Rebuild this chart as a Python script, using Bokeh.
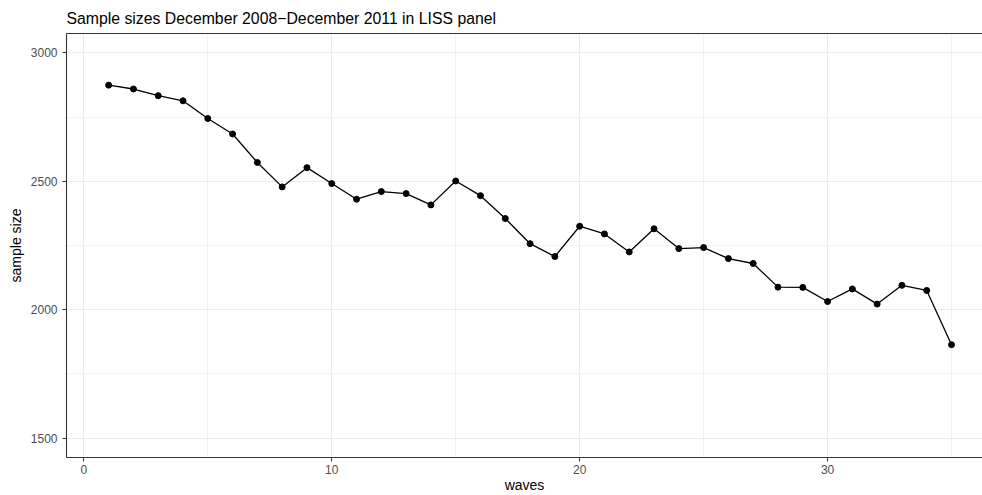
from bokeh.plotting import figure
from bokeh.models import Range1d, FixedTicker, LinearAxis
from bokeh.embed import file_html
from bokeh.resources import INLINE

waves = [1, 2, 3, 4, 5, 6, 7, 8, 9, 10, 11, 12, 13, 14, 15, 16, 17, 18,
         19, 20, 21, 22, 23, 24, 25, 26, 27, 28, 29, 30, 31, 32, 33, 34, 35]
sizes = [2874, 2859, 2833, 2813, 2744, 2684, 2573, 2478, 2553, 2491, 2430,
         2460, 2452, 2408, 2501, 2444, 2355, 2257, 2207, 2325, 2295, 2225,
         2315, 2238, 2242, 2199, 2180, 2088, 2087, 2032, 2081, 2022, 2095,
         2075, 1864]
x_ticks = [0, 10, 20, 30]
x_minor = [5, 15, 25, 35]
y_ticks = [1500, 2000, 2500, 3000]
y_minor = [1750, 2250, 2750]

FONT = "Liberation Sans"
DARK = "#333333"
GRID = "#EBEBEB"

p = figure(width=982, height=495, output_backend="svg", toolbar_location=None,
           x_range=Range1d(-0.7, 36.25), y_range=Range1d(1425, 3075),
           title="Sample sizes December 2008\u2212December 2011 in LISS panel",
           min_border_left=66, min_border_right=0, min_border_top=33,
           min_border_bottom=38)
p.outline_line_color = None
p.background_fill_color = "white"
p.border_fill_color = "white"

p.title.text_font = FONT
p.title.text_font_size = "15.8px"
p.title.text_font_style = "normal"
p.title.text_color = "black"
p.title.align = "left"
p.title.vertical_align = "top"
p.title.text_line_height = 0.6
p.title.offset = 0
p.title.standoff = 10

p.xaxis.ticker = FixedTicker(ticks=x_ticks, minor_ticks=x_minor)
p.yaxis.ticker = FixedTicker(ticks=y_ticks, minor_ticks=y_minor)
p.xaxis.axis_label = "waves"
p.yaxis.axis_label = "sample size"
for ax in (p.xaxis, p.yaxis):
    ax.axis_line_color = DARK
    ax.axis_line_width = 1.1
    ax.major_tick_line_color = DARK
    ax.major_tick_out = 4
    ax.major_tick_in = 0
    ax.minor_tick_line_color = None
    ax.major_label_text_font = FONT
    ax.major_label_text_font_size = "12px"
    ax.major_label_text_color = "#4D4D4D"
    ax.axis_label_text_font = FONT
    ax.axis_label_text_font_size = "14px"
    ax.axis_label_text_font_style = "normal"
    ax.axis_label_text_color = "black"
p.xaxis.major_label_standoff = 3
p.yaxis.major_label_standoff = 5
p.xaxis.axis_label_standoff = 0
p.yaxis.axis_label_standoff = 4

top = LinearAxis(ticker=FixedTicker(ticks=[]), axis_line_color=DARK,
                 axis_line_width=1.1, major_tick_line_color=None,
                 minor_tick_line_color=None, major_label_text_font_size="0px")
p.add_layout(top, "above")

p.xgrid.grid_line_color = GRID
p.ygrid.grid_line_color = GRID
p.xgrid.grid_line_width = 1.1
p.ygrid.grid_line_width = 1.1
p.xgrid.minor_grid_line_color = GRID
p.ygrid.minor_grid_line_color = GRID
p.xgrid.minor_grid_line_width = 0.6
p.ygrid.minor_grid_line_width = 0.6

p.line(waves, sizes, line_color="black", line_width=1.3)
p.scatter(waves, sizes, size=6, fill_color="black", line_color="black")

open("out.html", "w").write(file_html(p, INLINE))
